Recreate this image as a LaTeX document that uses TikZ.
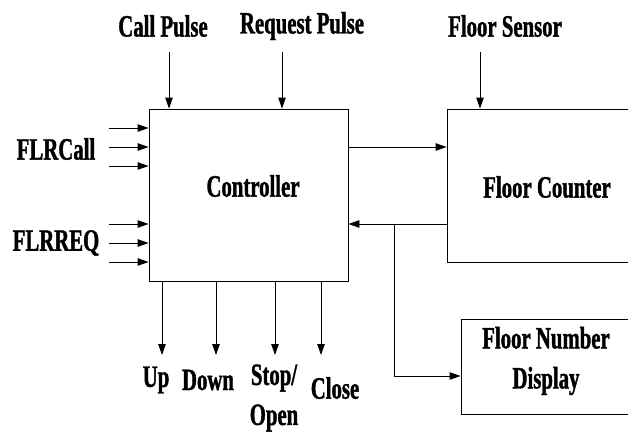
\documentclass[tikz,border=0pt]{standalone}
\usepackage{fontspec}
\setmainfont{Liberation Serif}[FakeStretch=0.67, BoldFeatures={FakeBold=1.2}]
\usetikzlibrary{arrows.meta}
\begin{document}
\begin{tikzpicture}[x=1pt,y=-1pt,
  arr/.style={draw, line width=0.9pt, -{Triangle[length=11pt,width=7.5pt]}},
  blk/.style={draw, line width=0.9pt, inner sep=0pt},
  lbl/.style={font=\fontsize{31}{40}\selectfont\bfseries, inner sep=0pt, align=center}]
\clip (0,0) rectangle (628,431);
\fill[white] (0,0) rectangle (628,431);
% blocks
\node[blk, minimum width=199pt, minimum height=172pt] (ctrl) at (248.5,195) {};
\node[blk, minimum width=220pt, minimum height=153pt] (fc) at (557,185.5) {};
\node[blk, minimum width=200pt, minimum height=95pt] (fnd) at (561,366.5) {};
\node[lbl] (tctrl) at (253,186) {Controller};
\node[lbl] (tfc) at (547,187) {Floor Counter};
\node[lbl] (tfnd) at (546,361) {Floor Number\\Display};
% left inputs
\node[lbl] (flrcall) at (56,149) {FLRCall};
\node[lbl] (flrreq) at (56,243) {FLRREQ};
\foreach \n/\yy in {a/128,b/147,c/166,d/224,e/243,f/262}{
  \coordinate (in\n) at (109,\yy);
  \draw[arr] (in\n) -- (in\n -| ctrl.west);
}
% top inputs
\node[lbl] (callp) at (163,26) {Call Pulse};
\node[lbl] (reqp) at (302,26) {Request Pulse};
\node[lbl] (fsens) at (505,26) {Floor Sensor};
\coordinate (cp) at (169,52);
\coordinate (rp) at (282,52);
\coordinate (fs) at (480,52);
\draw[arr] (cp) -- (cp |- ctrl.north);
\draw[arr] (rp) -- (rp |- ctrl.north);
\draw[arr] (fs) -- (fs |- fc.north);
% controller <-> floor counter
\coordinate (fw) at (348,147);
\draw[arr] (fw) -- (fw -| fc.west);
\coordinate (bk) at (447,224);
\coordinate (br) at (394,224);
\draw[arr] (bk) -- (bk -| ctrl.east);
\coordinate (brd) at (394,376);
\draw[arr] (br) -- (brd) -- (brd -| fnd.west);
% outputs
\foreach \n/\xx in {up/162,dn/216,st/275,cl/321}{
  \coordinate (o\n) at (\xx,355);
  \draw[arr] (o\n |- ctrl.south) -- (o\n);
}
\node[lbl] (up) at (156,380) {Up};
\node[lbl] (down) at (208,380) {Down};
\node[lbl] (stop) at (274,398) {Stop/\\Open};
\node[lbl] (close) at (335,388) {Close};
\end{tikzpicture}
\end{document}
